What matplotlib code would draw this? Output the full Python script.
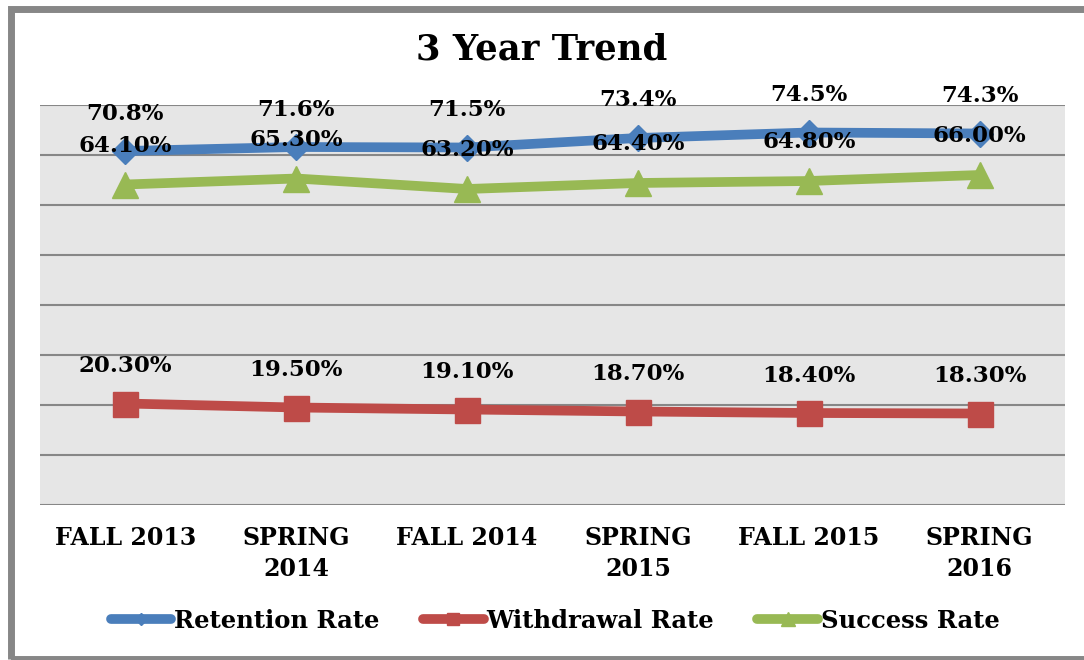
import matplotlib
matplotlib.use('Agg')
import matplotlib.pyplot as plt
from matplotlib.patches import Rectangle

terms = ['FALL 2013', 'SPRING\n2014', 'FALL 2014', 'SPRING\n2015', 'FALL 2015', 'SPRING\n2016']
retention = [70.8, 71.6, 71.5, 73.4, 74.5, 74.3]
withdrawal = [20.3, 19.5, 19.1, 18.7, 18.4, 18.3]
success = [64.1, 65.3, 63.2, 64.4, 64.8, 66.0]

blue = '#4a7ebb'
red = '#be4b48'
green = '#98b954'

font = 'DejaVu Serif'

fig = plt.figure(figsize=(10.84, 6.60), dpi=100)
ax = fig.add_axes([40 / 1084, 155 / 660, 1025 / 1084, 400 / 660])
ax.set_facecolor('#e6e6e6')

x = range(len(terms))
ax.plot(x, retention, color=blue, linewidth=7, marker='D', markersize=13,
        solid_capstyle='round', label='Retention Rate', zorder=3)
ax.plot(x, withdrawal, color=red, linewidth=7, marker='s', markersize=18,
        solid_capstyle='round', label='Withdrawal Rate', zorder=3)
ax.plot(x, success, color=green, linewidth=7, marker='^', markersize=19,
        solid_capstyle='round', label='Success Rate', zorder=3)

# data labels
lab = dict(textcoords='offset points', ha='center', va='center',
           fontsize=16.5, fontweight='bold', family=font, zorder=5)
for i in x:
    ax.annotate('{0:.1f}%'.format(retention[i]), (i, retention[i]), xytext=(0, 27), **lab)
    ax.annotate('{0:.2f}%'.format(success[i]), (i, success[i]), xytext=(0, 28), **lab)
    ax.annotate('{0:.2f}%'.format(withdrawal[i]), (i, withdrawal[i]), xytext=(0, 27), **lab)

ax.set_xlim(-0.5, len(terms) - 0.5)
ax.set_ylim(0, 80)
ax.set_yticks(range(0, 81, 10))
ax.set_yticklabels([])
ax.set_xticks(list(x))
ax.set_xticklabels(terms, fontsize=17, fontweight='bold', family=font, linespacing=1.4)
ax.tick_params(axis='both', length=0)
ax.tick_params(axis='x', pad=15)
ax.grid(axis='y', color='#878787', linewidth=1.5)
ax.set_axisbelow(True)
for s in ax.spines.values():
    s.set_visible(False)

fig.text(0.5, 1 - 50 / 660, '3 Year Trend', ha='center', va='center',
         fontsize=25.5, fontweight='bold', family=font)

fig.legend(loc='center', bbox_to_anchor=(0.512, 1 - 621 / 660), ncol=3, frameon=False,
           prop={'family': font, 'weight': 'bold', 'size': 17.5},
           handlelength=2.5, handletextpad=0.1, columnspacing=1.8, markerscale=0.5)

fig.patches.append(Rectangle((10.5 / 1084, 1.5 / 660), 1.2, 650 / 660,
                             transform=fig.transFigure, fill=False,
                             edgecolor='#878787', linewidth=5, clip_on=False))

plt.savefig('out.png', dpi=100)
